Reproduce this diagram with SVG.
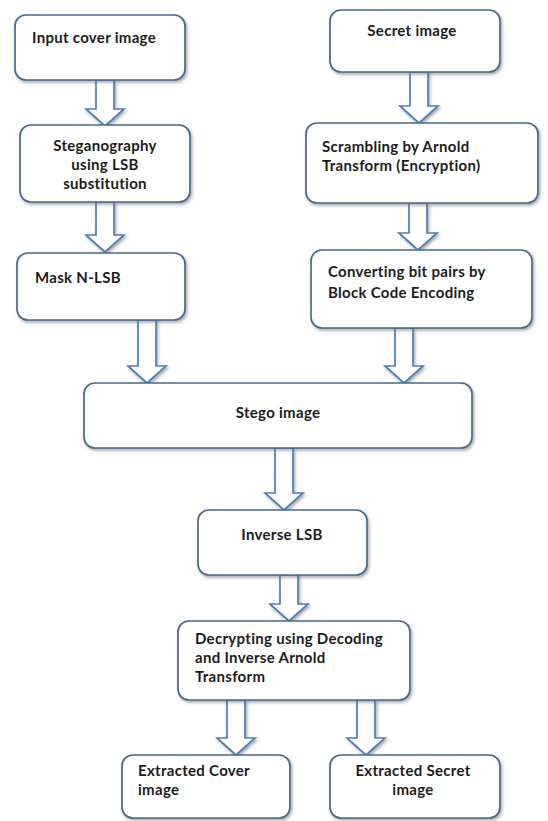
<svg xmlns="http://www.w3.org/2000/svg" width="548" height="821" viewBox="0 0 548 821">
<defs>
<filter id="sh" x="-10%" y="-10%" width="130%" height="140%">
<feDropShadow dx="1.5" dy="2" stdDeviation="1.5" flood-color="#6b6b6b" flood-opacity="0.55"/>
</filter>
</defs>
<style>
.box{fill:#ffffff;stroke:#46698f;stroke-width:1.7;filter:url(#sh)}
.arr{fill:#ffffff;stroke:#4d7fba;stroke-width:1.7;stroke-linejoin:miter;filter:url(#sh)}
.t{font-family:Lato,"Open Sans",sans-serif;font-weight:bold;font-size:15px;letter-spacing:0.3px;fill:#1c1c1c}
.c{text-anchor:middle}
</style>
<rect width="548" height="821" fill="#ffffff"/>
<g id="connectors">
<path class="arr" d="M96,80 V109 H86 L105,126 L124,109 H114 V80 Z"/>
<path class="arr" d="M96,202 V235 H86 L105,252 L124,235 H114 V202 Z"/>
<path class="arr" d="M138,320 V366 H128 L147,383 L166,366 H156 V320 Z"/>
<path class="arr" d="M410,72 V106 H400 L419,123 L438,106 H428 V72 Z"/>
<path class="arr" d="M409,203 V233 H399 L418,250 L437,233 H427 V203 Z"/>
<path class="arr" d="M395,328 V366 H385 L404,383 L423,366 H413 V328 Z"/>
<path class="arr" d="M275,448 V493 H265 L284,510 L303,493 H293 V448 Z"/>
<path class="arr" d="M280,575 V604 H270 L289,621 L308,604 H298 V575 Z"/>
<path class="arr" d="M227,700 V738 H217 L236,755 L255,738 H245 V700 Z"/>
<path class="arr" d="M357,700 V738 H347 L366,755 L385,738 H375 V700 Z"/>
</g>
<g id="input-cover">
<rect class="box" x="15" y="15" width="170" height="65" rx="11"/>
<text class="t" x="32" y="43">Input cover image</text>
</g>
<g id="secret">
<rect class="box" x="330" y="10" width="170" height="62" rx="11"/>
<text class="t c" x="412" y="36">Secret image</text>
</g>
<g id="stego-lsb">
<rect class="box" x="20" y="125" width="170" height="77" rx="11"/>
<text class="t c" x="105" y="151">Steganography</text>
<text class="t c" x="105" y="170">using LSB</text>
<text class="t c" x="105" y="189">substitution</text>
</g>
<g id="scrambling">
<rect class="box" x="306" y="123" width="232" height="80" rx="11"/>
<text class="t" x="322" y="152">Scrambling by Arnold</text>
<text class="t" x="322" y="171">Transform (Encryption)</text>
</g>
<g id="mask">
<rect class="box" x="17" y="253" width="168" height="67" rx="11"/>
<text class="t" x="35" y="283">Mask N-LSB</text>
</g>
<g id="converting">
<rect class="box" x="311" y="250" width="221" height="78" rx="11"/>
<text class="t" x="328" y="277">Converting bit pairs by</text>
<text class="t" x="328" y="298">Block Code Encoding</text>
</g>
<g id="stego-image">
<rect class="box" x="84" y="383" width="388" height="65" rx="11"/>
<text class="t c" x="278" y="418">Stego image</text>
</g>
<g id="inverse-lsb">
<rect class="box" x="198" y="510" width="169" height="65" rx="11"/>
<text class="t c" x="282" y="540">Inverse LSB</text>
</g>
<g id="decrypting">
<rect class="box" x="178" y="621" width="232" height="79" rx="11"/>
<text class="t" x="195" y="644">Decrypting using Decoding</text>
<text class="t" x="195" y="663">and Inverse Arnold</text>
<text class="t" x="195" y="682">Transform</text>
</g>
<g id="extracted-cover">
<rect class="box" x="122" y="755" width="168" height="63" rx="11"/>
<text class="t" x="138" y="776">Extracted Cover</text>
<text class="t" x="138" y="795">image</text>
</g>
<g id="extracted-secret">
<rect class="box" x="330" y="755" width="170" height="63" rx="11"/>
<text class="t c" x="413" y="776">Extracted Secret</text>
<text class="t c" x="413" y="795">image</text>
</g>
</svg>
